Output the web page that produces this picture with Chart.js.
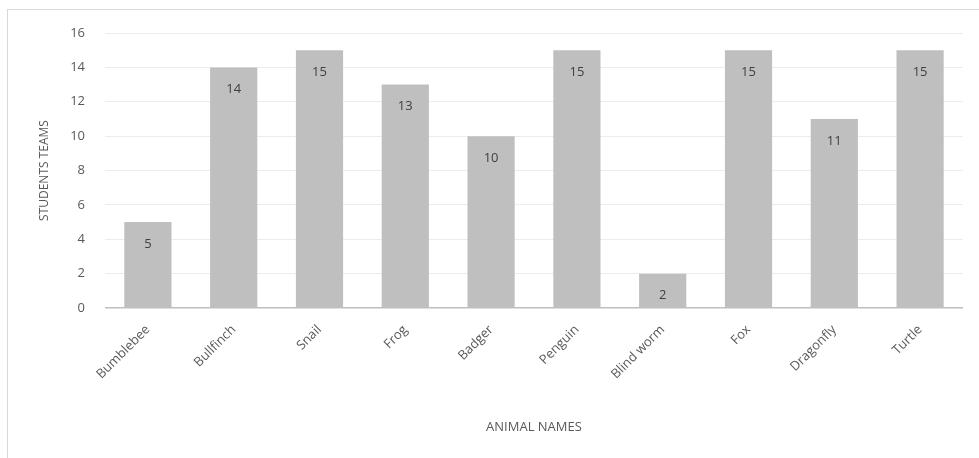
<!DOCTYPE html>
<html>
<head>
<meta charset="utf-8">
<script src="https://cdn.jsdelivr.net/npm/chart.js@4"></script>
<style>
  body { margin: 0; background: #fff; }
  #wrap { position: relative; width: 979px; height: 458px; }
  #frame { position: absolute; left: 7px; top: 9px; right: 0; bottom: 0;
           border-top: 1px solid #d9d9d9; border-left: 1px solid #d9d9d9; }
  canvas { position: absolute; left: 0; top: 0; }
</style>
</head>
<body>
<div id="wrap">
  <div id="frame"></div>
  <canvas id="chart" width="979" height="458"></canvas>
</div>
<script>
var animals = ['Bumblebee', 'Bullfinch', 'Snail', 'Frog', 'Badger', 'Penguin', 'Blind worm', 'Fox', 'Dragonfly', 'Turtle'];
var teams = [5, 14, 15, 13, 10, 15, 2, 15, 11, 15];
var yTicks = [0, 2, 4, 6, 8, 10, 12, 14, 16];

var textFont = "'Open Sans', sans-serif";

// numbers inside the bars, a little below the top
var barLabels = {
  id: 'barLabels',
  afterDatasetsDraw: function(chart) {
    var ctx = chart.ctx;
    var meta = chart.getDatasetMeta(0);
    ctx.save();
    ctx.font = '13px ' + textFont;
    ctx.fillStyle = '#404040';
    ctx.textAlign = 'center';
    ctx.textBaseline = 'middle';
    meta.data.forEach(function(bar, i) {
      ctx.fillText(teams[i], bar.x, bar.y + 22);
    });
    ctx.restore();
  }
};

var ctx = document.getElementById('chart').getContext('2d');
window.myChart = new Chart(ctx, {
  type: 'bar',
  data: {
    labels: animals,
    datasets: [{
      label: 'Teams',
      data: teams,
      backgroundColor: '#bfbfbf',
      categoryPercentage: 1,
      barPercentage: 0.55
    }]
  },
  options: {
    responsive: false,
    animation: false,
    layout: { padding: { top: 33, right: 16, left: 0, bottom: 0 } },
    plugins: {
      legend: { display: false },
      tooltip: { enabled: false }
    },
    scales: {
      x: {
        grid: { display: false },
        border: { display: false },
        ticks: {
          color: '#595959',
          font: { family: textFont, size: 13 },
          maxRotation: 45,
          minRotation: 45,
          padding: 6
        },
        title: {
          display: true,
          text: 'ANIMAL NAMES',
          color: '#595959',
          font: { family: textFont, size: 13 },
          padding: { bottom: 23 }
        },
        afterFit: function(scale) { scale.height = 150; }
      },
      y: {
        min: 0,
        max: 16,
        afterBuildTicks: function(scale) {
          scale.ticks = yTicks.map(function(v) { return { value: v }; });
        },
        grid: {
          drawTicks: false,
          color: function(c) { return c.tick.value === 0 ? '#bfbfbf' : '#ececec'; },
          lineWidth: function(c) { return c.tick.value === 0 ? 1.5 : 1; }
        },
        border: { display: false },
        ticks: {
          color: '#595959',
          font: { family: textFont, size: 13 },
          padding: 20
        },
        title: {
          display: true,
          text: 'STUDENTS TEAMS',
          color: '#595959',
          font: { family: textFont, size: 12 },
          padding: { top: 37 }
        },
        afterFit: function(scale) { scale.width = 105; }
      }
    }
  },
  plugins: [barLabels]
});
</script>
</body>
</html>
